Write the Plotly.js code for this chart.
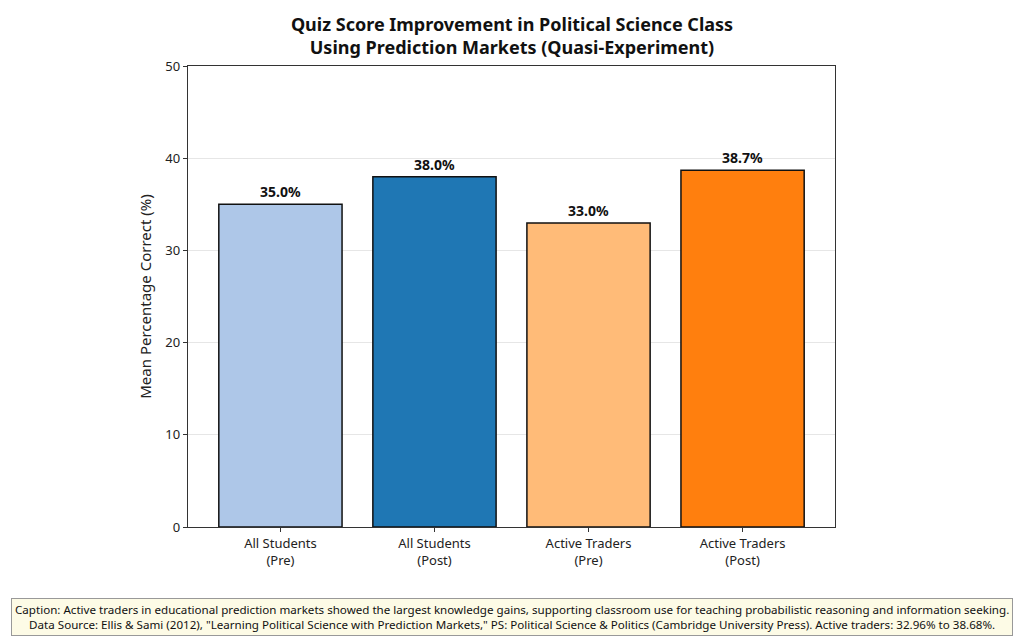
<!DOCTYPE html>
<html>
<head>
<meta charset="utf-8">
<script src="https://cdn.plot.ly/plotly-3.0.1.min.js"></script>
<style>
  html, body { margin: 0; padding: 0; background: #ffffff; }
  #chart { width: 1024px; height: 642px; }
</style>
</head>
<body>
<div id="chart"></div>
<script>
// data
const categories = ['All Students<br>(Pre)', 'All Students<br>(Post)', 'Active Traders<br>(Pre)', 'Active Traders<br>(Post)']
const scores = [35.0, 38.0, 32.96, 38.68]
const barColors = ['#aec7e8', '#1f77b4', '#ffbb78', '#ff7f0e']
const yTicks = [0, 10, 20, 30, 40, 50]

const fontFamily = '"Noto Sans", "DejaVu Sans", sans-serif'

const trace = {
  type: 'bar',
  x: categories,
  y: scores,
  width: 0.8,
  marker: {
    color: barColors,
    line: { color: '#111111', width: 1.5 }
  },
  text: scores.map(v => '<b>' + v.toFixed(1) + '%</b>'),
  textposition: 'outside',
  textfont: { size: 14, color: '#111111', family: fontFamily },
  cliponaxis: false,
  hoverinfo: 'none',
}

const layout = {
  width: 1024,
  height: 642,
  margin: { t: 66, r: 189, b: 115, l: 188 },
  paper_bgcolor: '#ffffff',
  plot_bgcolor: '#ffffff',
  font: { family: fontFamily, color: '#222222', size: 13 },
  title: {
    text: '<b>Quiz Score Improvement in Political Science Class<br>Using Prediction Markets (Quasi-Experiment)</b>',
    x: 0.5,
    xanchor: 'center',
    yref: 'container',
    y: 0.952,
    yanchor: 'middle',
    font: { size: 18, color: '#111111', family: fontFamily },
  },
  bargap: 0.2,
  showlegend: false,
  xaxis: {
    range: [-0.6, 3.6],
    type: 'category',
    showline: true,
    linecolor: '#333333',
    linewidth: 1.2,
    mirror: true,
    ticks: 'outside',
    ticklen: 4,
    tickcolor: '#333333',
    tickfont: { size: 13, color: '#222222' },
    showgrid: false,
  },
  yaxis: {
    range: [0, 50],
    tickvals: yTicks,
    ticktext: yTicks.map(String),
    showline: true,
    linecolor: '#333333',
    linewidth: 1.2,
    mirror: true,
    ticks: 'outside',
    ticklen: 4,
    tickcolor: '#333333',
    tickfont: { size: 13, color: '#222222' },
    showgrid: true,
    gridcolor: '#e6e6e6',
    gridwidth: 1,
    zeroline: false,
    title: { text: 'Mean Percentage Correct (%)', font: { size: 15, color: '#222222' }, standoff: 10 },
  },
  annotations: [{
    xref: 'paper',
    yref: 'paper',
    x: 0.5,
    y: -0.195,
    xanchor: 'center',
    yanchor: 'middle',
    showarrow: false,
    align: 'center',
    text: 'Caption: Active traders in educational prediction markets showed the largest knowledge gains, supporting classroom use for teaching probabilistic reasoning and information seeking.<br>' +
      'Data Source: Ellis &amp; Sami (2012), "Learning Political Science with Prediction Markets," PS: Political Science &amp; Politics (Cambridge University Press). Active traders: 32.96% to 38.68%.',
    font: { size: 11.6, color: '#111111', family: fontFamily },
    bgcolor: '#fdfbe6',
    bordercolor: '#999999',
    borderwidth: 1,
    borderpad: 3,
  }],
}

Plotly.newPlot('chart', [trace], layout, { displayModeBar: false, staticPlot: true })
</script>
</body>
</html>
